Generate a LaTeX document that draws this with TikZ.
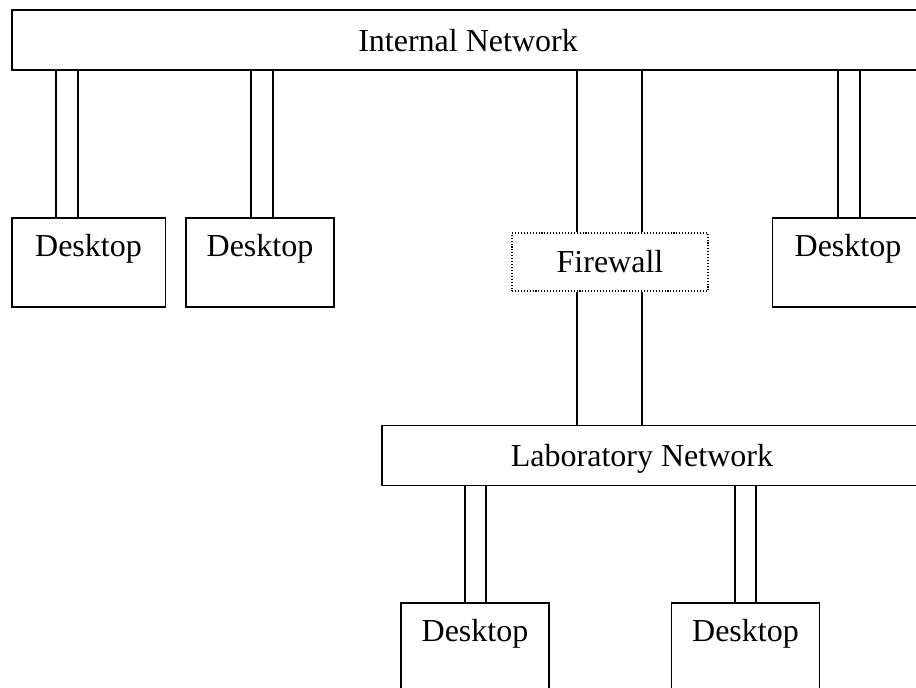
\documentclass[tikz,border=0pt]{standalone}
\usepackage{fontspec}
\setmainfont{Liberation Serif}
\usepackage{tikz}
\usetikzlibrary{calc}

\begin{document}
\begin{tikzpicture}[x=0.75pt,y=-0.75pt,line width=1pt]
		\tikzstyle{every node}=[font=\fontsize{24}{28}\selectfont]
		\tikzstyle{net}=[draw, minimum height=45pt, text depth=0pt, inner sep=0pt]
		\tikzstyle{desktop}=[draw, minimum width=111pt, minimum height=66.75pt, text height=18pt, text depth=27pt, inner sep=0pt]
		\tikzstyle{wall}=[draw, dash pattern=on 0.8pt off 1.4pt, line width=0.9pt, minimum width=147pt, minimum height=43.5pt, inner sep=0pt]
		
		\useasboundingbox (0,0) rectangle (916,687);
		\clip (0,0) rectangle (916,687);
		
		\node[net, minimum width=684pt] (inet) at (468,40) {Internal Network};
		\node[net, minimum width=402pt] (lab) at (650,455.5) {Laboratory Network\kern12pt};
		
		\node[desktop, minimum width=115pt] (d1) at (88.5,262.5) {Desktop};
		\node[desktop] (d2) at (260,262.5) {Desktop};
		\node[desktop, minimum width=113pt] (d3) at (848,262.5) {Desktop};
		\node[desktop] (d4) at (475,647.5) {Desktop};
		\node[desktop] (d5) at (745.5,647.5) {Desktop};
		
		\node[wall] (fw) at (610,262) {Firewall};
		
		% links between the networks and the hosts
		\foreach \x/\a/\b in {56/inet/d1, 78/inet/d1, 251/inet/d2, 273/inet/d2,
			838/inet/d3, 860/inet/d3, 577/inet/fw, 642/inet/fw, 577/fw/lab, 642/fw/lab,
			465/lab/d4, 486/lab/d4, 735/lab/d5, 756/lab/d5}
			\draw ({\x},0 |- \a.south) -- ({\x},0 |- \b.north);
		
\end{tikzpicture}
\end{document}
